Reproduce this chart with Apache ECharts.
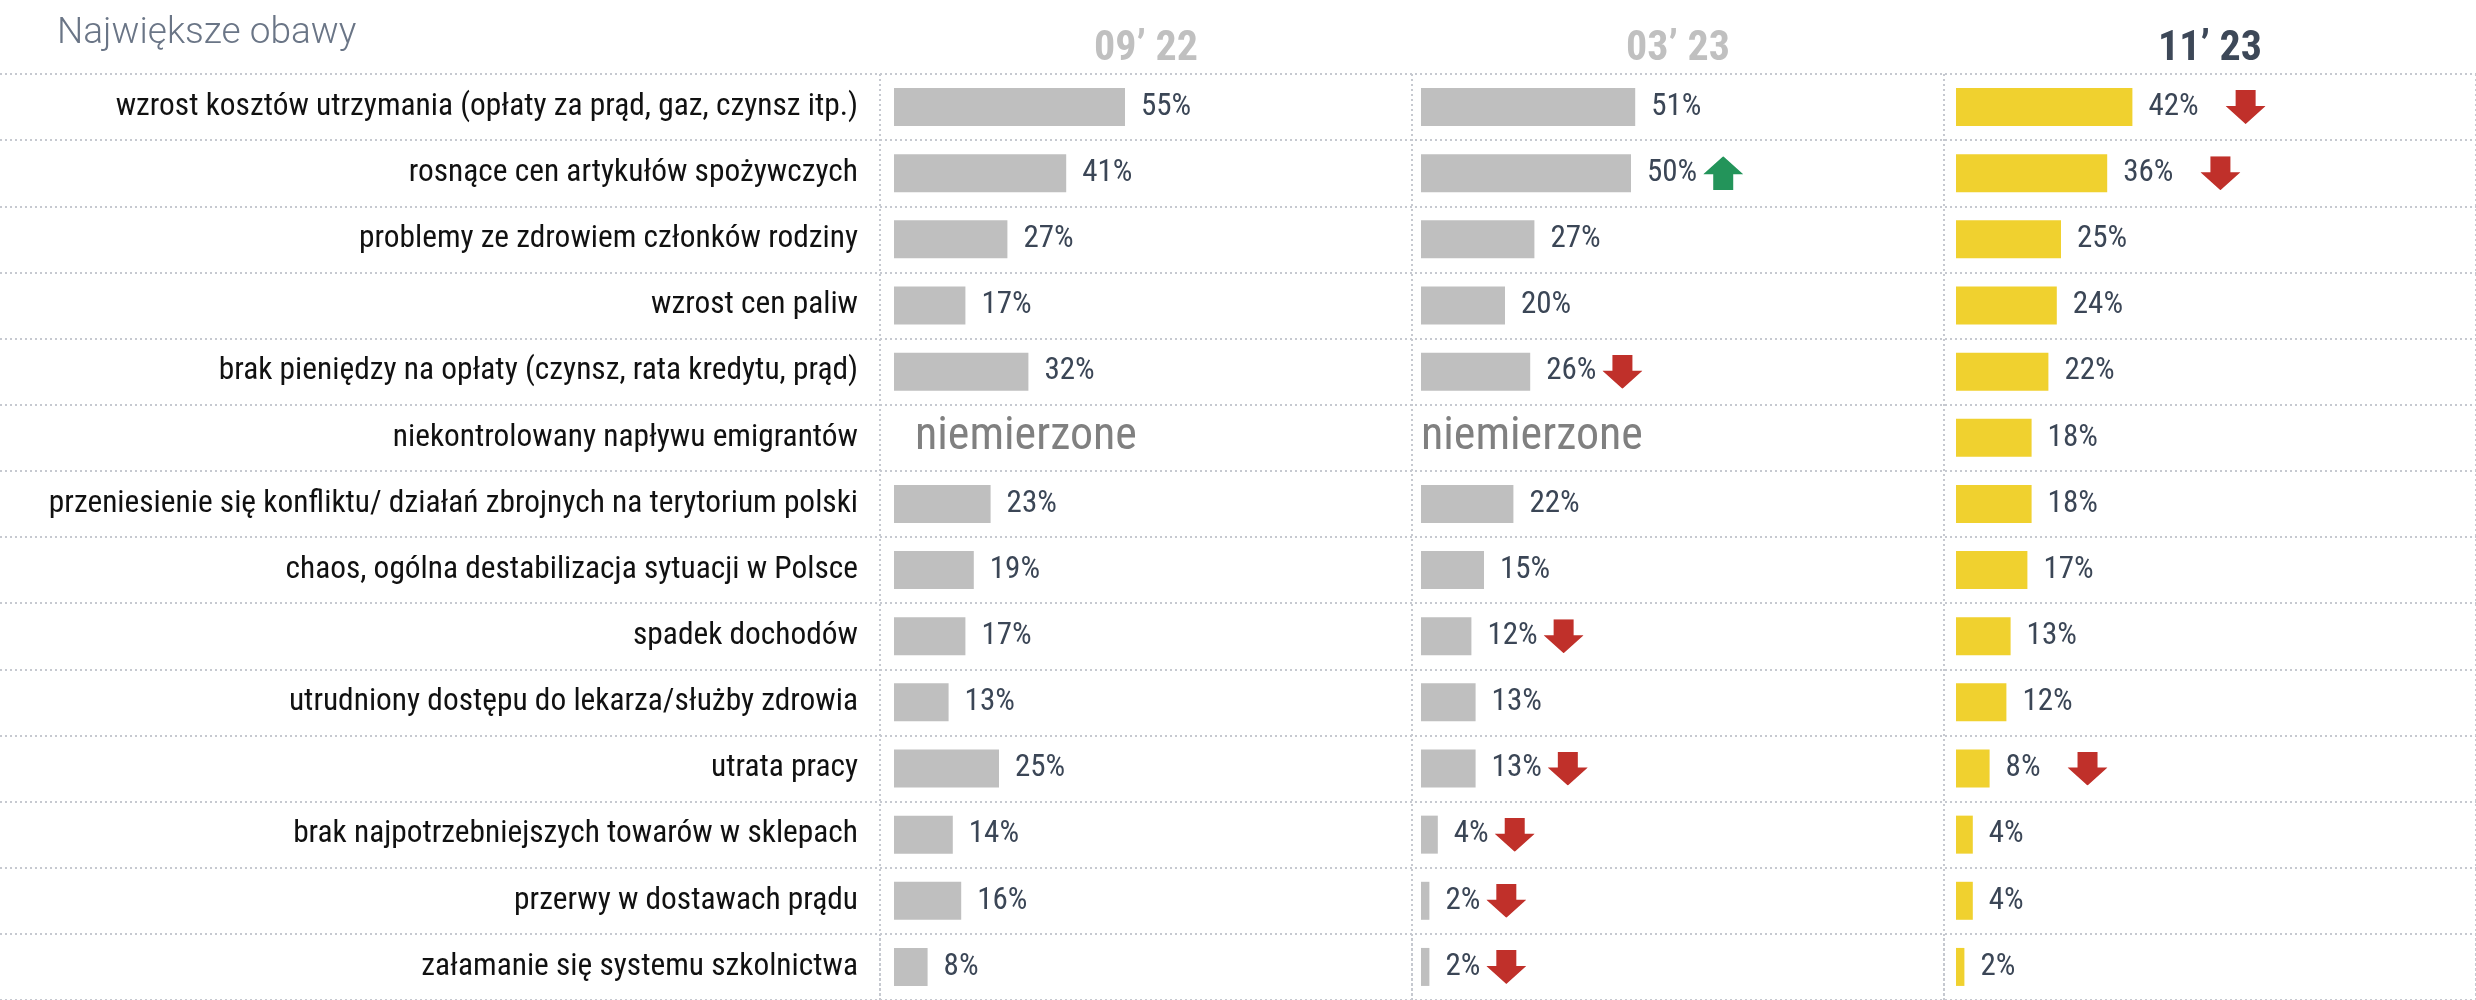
<!DOCTYPE html>
<html>
<head>
<meta charset="utf-8">
<title>Największe obawy</title>
<script src="https://cdn.jsdelivr.net/npm/echarts@6/dist/echarts.min.js"></script>
<style>
  html, body { margin: 0; padding: 0; background: #fff; }
  #main { width: 2476px; height: 1000px; }
</style>
</head>
<body>
<div id="main"></div>
<script>
// dane
const categories = [
  "wzrost kosztów utrzymania (opłaty za prąd, gaz, czynsz itp.)",
  "rosnące cen artykułów spożywczych",
  "problemy ze zdrowiem członków rodziny",
  "wzrost cen paliw",
  "brak pieniędzy na opłaty (czynsz, rata kredytu, prąd)",
  "niekontrolowany napływu emigrantów",
  "przeniesienie się konfliktu/ działań zbrojnych na terytorium polski",
  "chaos, ogólna destabilizacja sytuacji w Polsce",
  "spadek dochodów",
  "utrudniony dostępu do lekarza/służby zdrowia",
  "utrata pracy",
  "brak najpotrzebniejszych towarów w sklepach",
  "przerwy w dostawach prądu",
  "załamanie się systemu szkolnictwa"
];
const periods = ["09’ 22", "03’ 23", "11’ 23"];
const values0922 = [55, 41, 27, 17, 32, null, 23, 19, 17, 13, 25, 14, 16, 8];
const values0323 = [51, 50, 27, 20, 26, null, 22, 15, 12, 13, 13, 4, 2, 2];
const values1123 = [42, 36, 25, 24, 22, 18, 18, 17, 13, 12, 8, 4, 4, 2];
const trend0323 = ["", "up", "", "", "down", "", "", "", "down", "", "down", "down", "down", "down"];
const trend1123 = ["down", "down", "", "", "", "", "", "", "", "", "down", "", "", ""];
const emptyText = "niemierzone";

const font = '"Roboto Condensed", Roboto, sans-serif';

function arrowUrl(dir, color) {
  const d = dir === "down"
    ? "M10 0H30V16H40L20 34L0 16H10Z"
    : "M10 34H30V18H40L20 0L0 18H10Z";
  return "data:image/svg+xml;utf8," + encodeURIComponent(
    '<svg xmlns="http://www.w3.org/2000/svg" width="40" height="34"><path d="' + d + '" fill="' + color + '"/></svg>');
}

const rowTop = 74;
const rowsHeight = 928;
const dotted = { color: "#c6c9d0", width: 2, type: [2, 3] };

// kolumny: lewa krawędź słupków, kolor, odstęp strzałki, odstęp "niemierzone"
const columns = [
  { left: 894, color: "#bfbfbf", values: values0922, trend: null, gap: 6, emptyDist: 21 },
  { left: 1421, color: "#bfbfbf", values: values0323, trend: trend0323, gap: 6, emptyDist: 0 },
  { left: 1956, color: "#f0d12f", values: values1123, trend: trend1123, gap: 27, emptyDist: 0 }
];

const grid = [
  { left: 0, right: 0, top: rowTop, height: rowsHeight },      // linie poziome
  { left: 880, right: -3, top: rowTop, height: rowsHeight }    // linie pionowe + nagłówki
];
const xAxis = [
  { gridIndex: 0, type: "value", show: false },
  {
    gridIndex: 1, type: "category", data: periods, position: "top", boundaryGap: true,
    axisLine: { show: false },
    axisTick: { show: true, interval: 0, length: 66, lineStyle: dotted },
    splitLine: { show: true, interval: 0, lineStyle: dotted },
    axisLabel: {
      interval: 0, margin: 4, fontFamily: font, fontWeight: "bold", fontSize: 42,
      color: (v, i) => (i === 2 ? "#3d4858" : "#c0c0c0")
    }
  }
];
const yAxis = [
  {
    gridIndex: 0, type: "category", data: categories, inverse: true,
    axisLine: { show: false }, axisTick: { show: false }, axisLabel: { show: false },
    splitLine: { show: true, interval: 0, lineStyle: dotted }
  },
  { gridIndex: 1, type: "value", show: false }
];
const series = [];

columns.forEach((col, k) => {
  const g = k + 2;
  grid.push({ left: col.left, width: 420, top: rowTop, height: rowsHeight });
  xAxis.push({ gridIndex: g, type: "value", min: 0, max: 100, show: false });
  yAxis.push({
    gridIndex: g, type: "category", data: categories, inverse: true,
    axisLine: { show: false }, axisTick: { show: false }, splitLine: { show: false },
    axisLabel: {
      show: k === 0, interval: 0, margin: 36, fontFamily: font,
      fontSize: 31.4, color: "#111111"
    }
  });
  const data = col.values.map((v, i) => {
    if (v === null) {
      // brak pomiaru
      return { value: 0, empty: true, label: { distance: col.emptyDist } };
    }
    return { value: v, trend: col.trend ? col.trend[i] : "" };
  });
  series.push({
    type: "bar",
    xAxisIndex: g,
    yAxisIndex: g,
    barWidth: 38,
    itemStyle: { color: col.color },
    data: data,
    label: {
      show: true,
      position: "right",
      distance: 16,
      formatter: (p) => {
        if (p.data.empty) return "{e|" + emptyText + "}";
        const t = p.data.trend;
        return "{v|" + p.value + "%}" + (t ? "{s|}{" + t + "|}" : "");
      },
      rich: {
        v: { fontFamily: font, fontSize: 31, color: "#3b4656" },
        e: { fontFamily: font, fontSize: 46, color: "#808080" },
        s: { width: col.gap },
        down: { width: 40, height: 34, verticalAlign: "middle", backgroundColor: { image: arrowUrl("down", "#c0302a") } },
        up: { width: 40, height: 34, verticalAlign: "middle", backgroundColor: { image: arrowUrl("up", "#23945a") } }
      }
    }
  });
});

const option = {
  animation: false,
  title: {
    text: "Największe obawy",
    left: 57,
    top: 15,
    padding: 0,
    textStyle: { fontFamily: "Roboto", fontWeight: 300, fontSize: 37, color: "#6a7586" }
  },
  grid: grid,
  xAxis: xAxis,
  yAxis: yAxis,
  series: series
};

const myChart = echarts.init(document.getElementById("main"));
myChart.setOption(option);
window.addEventListener("resize", () => {
  myChart.resize();
});
</script>
</body>
</html>
